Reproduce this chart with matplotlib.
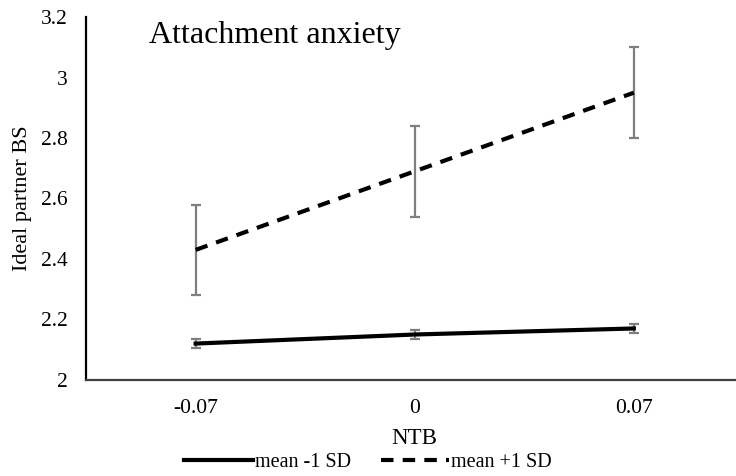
import numpy as np
import matplotlib.pyplot as plt

plt.rcParams['font.family'] = ['Liberation Serif', 'DejaVu Serif']

categories = ['-0.07', '0', '0.07']
low_mean = [2.12, 2.15, 2.17]
low_err = [0.015, 0.015, 0.015]
high_mean = [2.43, 2.69, 2.95]
high_err = [0.15, 0.15, 0.15]

fig = plt.figure(figsize=(7.36, 4.76), dpi=100)
ax = fig.add_axes([0.117, 0.202, 0.893, 0.762])

x = np.arange(len(categories))
ax.errorbar(x, low_mean, yerr=low_err, color='black', lw=3, ecolor='#7f7f7f',
            elinewidth=1.6, capsize=3.8, capthick=1.6, label='mean -1 SD')
ax.errorbar(x, high_mean, yerr=high_err, color='black', lw=3, ls=(0, (3, 2.2)),
            ecolor='#7f7f7f', elinewidth=1.6, capsize=3.8, capthick=1.6,
            label='mean +1 SD')

ax.set_xlim(-0.5, 2.5)
ax.set_ylim(2, 3.2)
ax.set_yticks(np.arange(2, 3.21, 0.2))
ax.set_yticklabels(['2', '2.2', '2.4', '2.6', '2.8', '3', '3.2'])
ax.set_xticks(x)
ax.set_xticklabels(categories)
ax.tick_params(length=0, labelsize=15.5)
ax.tick_params(axis='x', pad=14)
ax.tick_params(axis='y', pad=13)

ax.spines['top'].set_visible(False)
ax.spines['right'].set_visible(False)
ax.spines['left'].set_linewidth(1.6)
ax.spines['bottom'].set_linewidth(1.6)
ax.spines['bottom'].set_color('#404040')

ax.set_xlabel('NTB', fontsize=16.5, labelpad=7)
ax.set_ylabel('Ideal partner BS', fontsize=16, labelpad=4)
ax.yaxis.set_label_coords(-0.083, 0.5)
ax.text(0.095, 0.95, 'Attachment anxiety', transform=ax.transAxes, fontsize=23,
        va='center', ha='left')

handles, labels = ax.get_legend_handles_labels()
handles = [h[0] for h in handles]
fig.legend(handles, labels, loc='center', bbox_to_anchor=(0.5, 0.028), ncol=2,
           frameon=False, fontsize=14.5, handlelength=3.4, handletextpad=0.1,
           columnspacing=1.5, borderpad=0)

fig.savefig('out.png', dpi=100)
